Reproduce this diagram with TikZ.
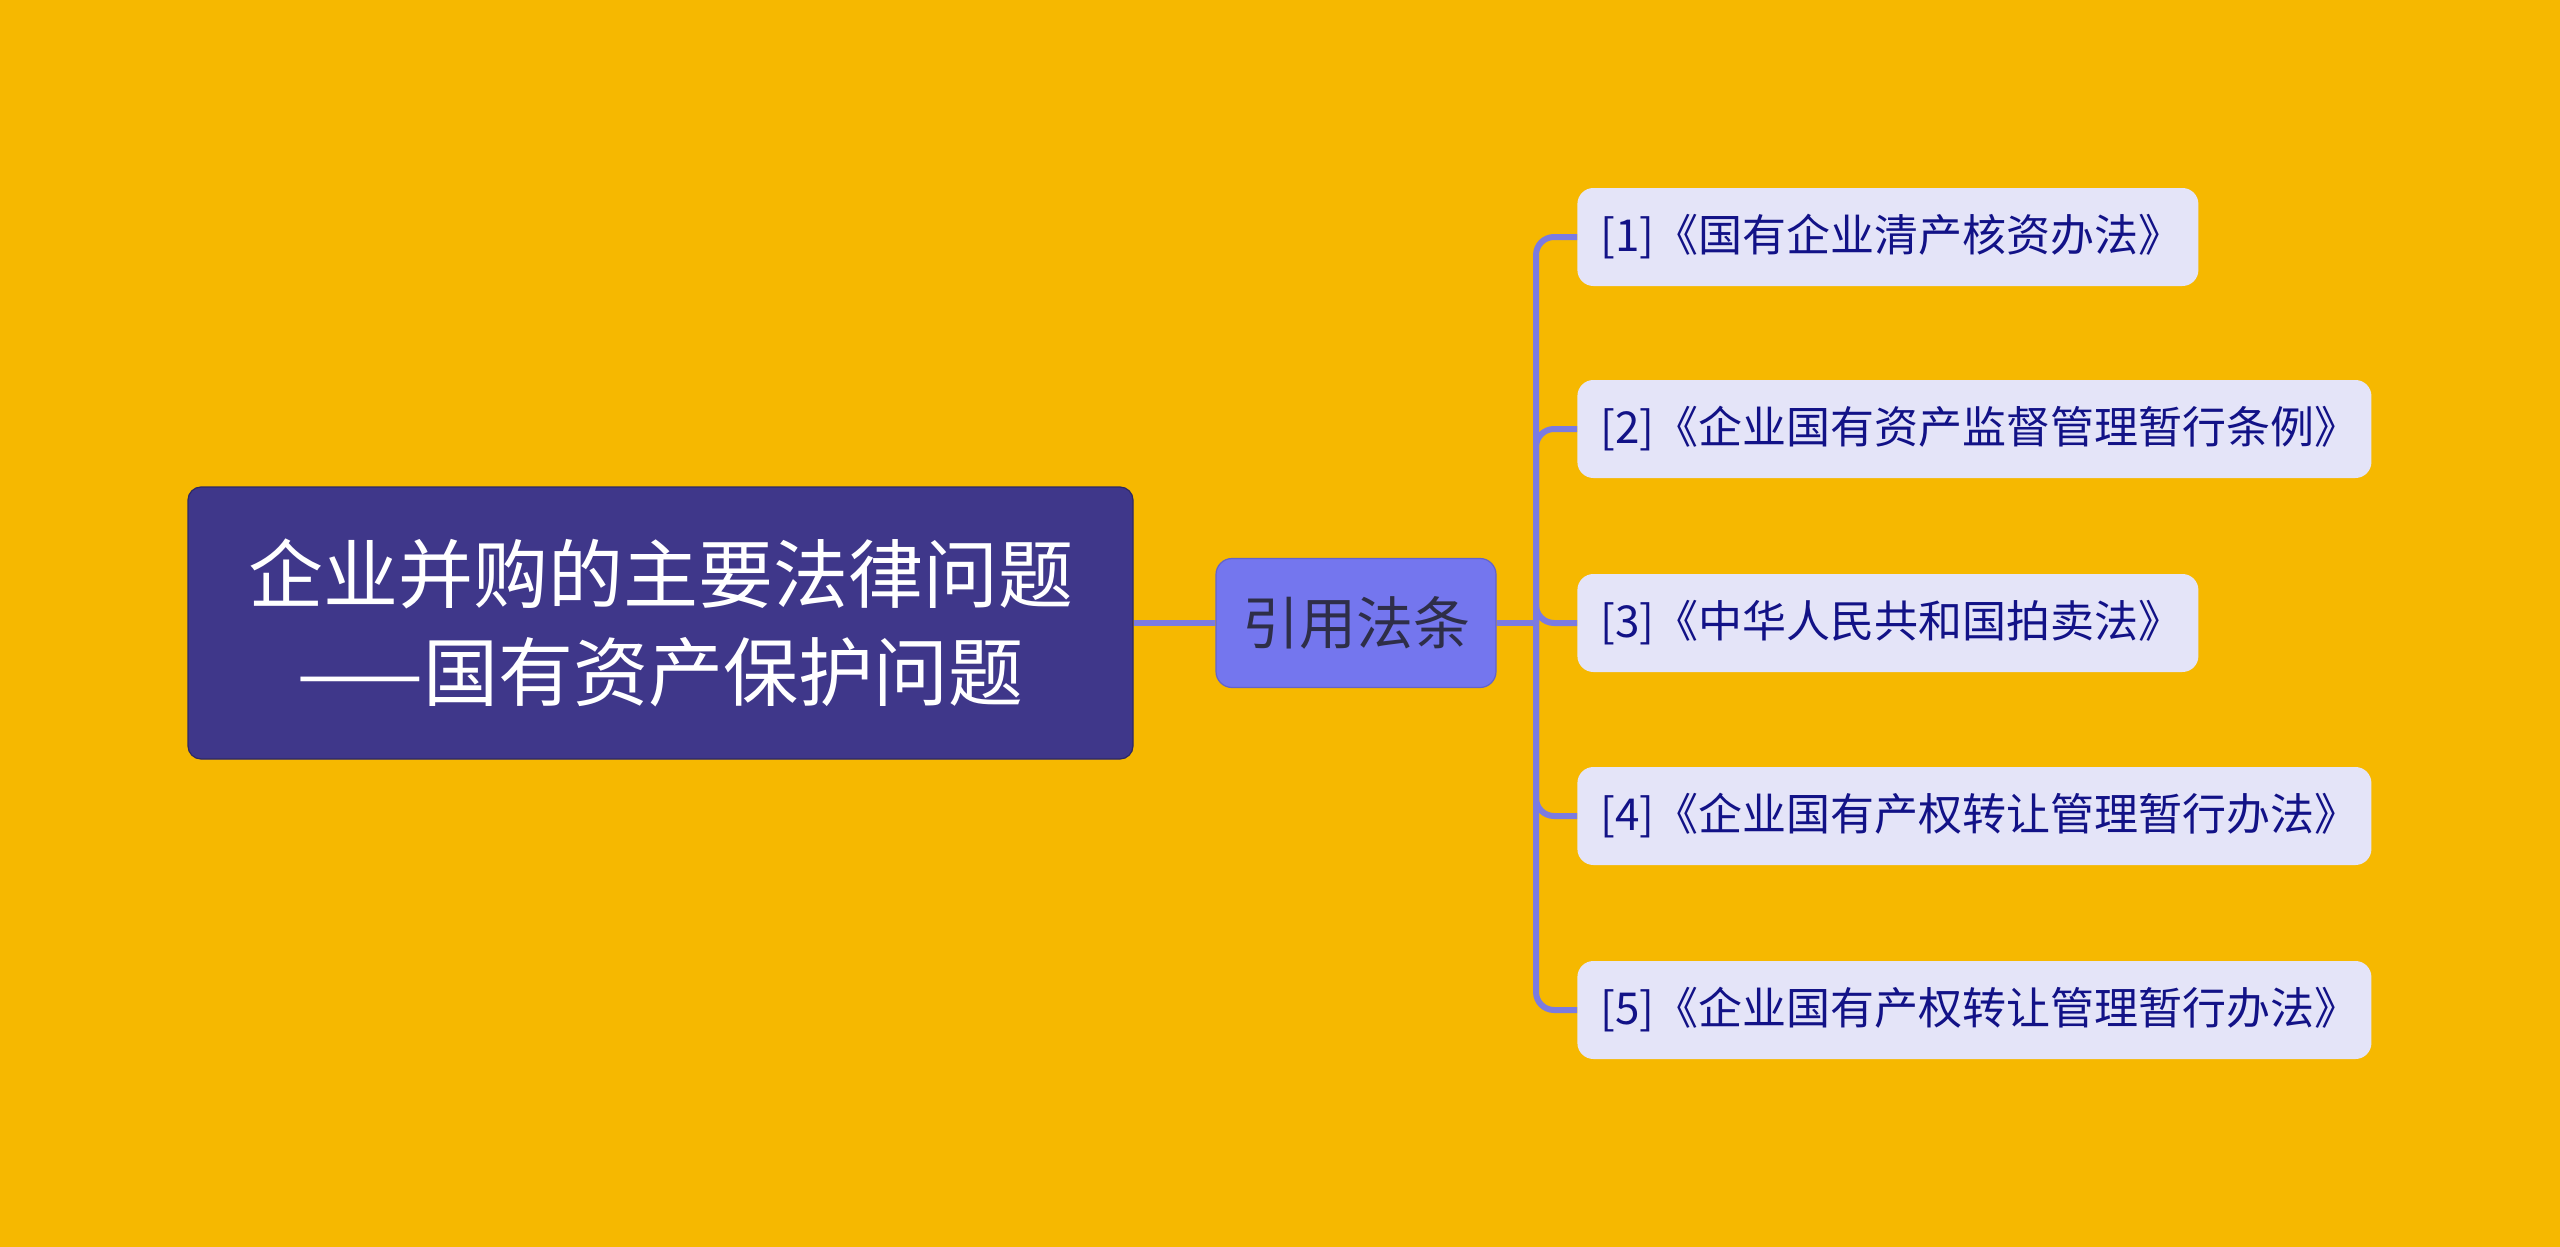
\documentclass[tikz,border=0pt]{standalone}
\usepackage{fontspec}
\setmainfont{Noto Sans CJK SC}
\usetikzlibrary{positioning}
\definecolor{bg}{RGB}{246,184,0}
\definecolor{rootfill}{RGB}{63,55,138}
\definecolor{rootdraw}{RGB}{45,40,100}
\definecolor{midfill}{RGB}{116,118,238}
\definecolor{middraw}{RGB}{100,100,200}
\definecolor{midtext}{RGB}{46,46,72}
\definecolor{leaffill}{RGB}{228,228,248}
\definecolor{leaftext}{RGB}{18,18,135}
\definecolor{conn}{RGB}{123,123,224}
\tikzset{
  rootbox/.style={draw=rootdraw, line width=0.6pt, fill=rootfill, rounded corners=6.5pt,
    minimum width=472.5pt, minimum height=136pt, inner sep=0pt, align=center,
    text=white, font=\fontsize{37.5}{49}\selectfont},
  midbox/.style={draw=middraw, line width=0.6pt, fill=midfill, rounded corners=8pt,
    minimum width=140pt, minimum height=64.5pt, inner sep=0pt,
    text=midtext, font=\fontsize{28.5}{33}\selectfont},
  leafbox/.style={fill=leaffill, rounded corners=8pt, anchor=west,
    minimum height=49pt, inner xsep=11.5pt, inner ysep=0pt, align=left,
    text=leaftext, font=\fontsize{22}{27}\selectfont},
  link/.style={draw=conn, line width=3pt},
}
\begin{document}
\begin{tikzpicture}[x=0.5pt,y=-0.5pt]
\useasboundingbox (0,0) rectangle (2560,1247);
\fill[bg] (0,0) rectangle (2560,1247);

\node[rootbox] (root) at (660.5,623) {企业并购的主要法律问题\\——国有资产保护问题};
\node[midbox] (mid) at (1356,623) {引用法条};
\coordinate (j) at (1536,623);

\node[leafbox, text width=287.5pt] (l1) at (1577,237) {[1]《国有企业清产核资办法》};
\node[leafbox, text width=374pt] (l2) at (1577,429) {[2]《企业国有资产监督管理暂行条例》};
\node[leafbox, text width=287.5pt] (l3) at (1577,623) {[3]《中华人民共和国拍卖法》};
\node[leafbox, text width=374pt] (l4) at (1577,816) {[4]《企业国有产权转让管理暂行办法》};
\node[leafbox, text width=374pt] (l5) at (1577,1010) {[5]《企业国有产权转让管理暂行办法》};

\draw[link] (root.east) -- (mid.west);
\draw[link] (mid.east) -- (j);
\foreach \k in {l1,l2,l3,l4,l5}{
  \draw[link, rounded corners=9pt] (j) |- (\k.west);
}
\end{tikzpicture}
\end{document}
